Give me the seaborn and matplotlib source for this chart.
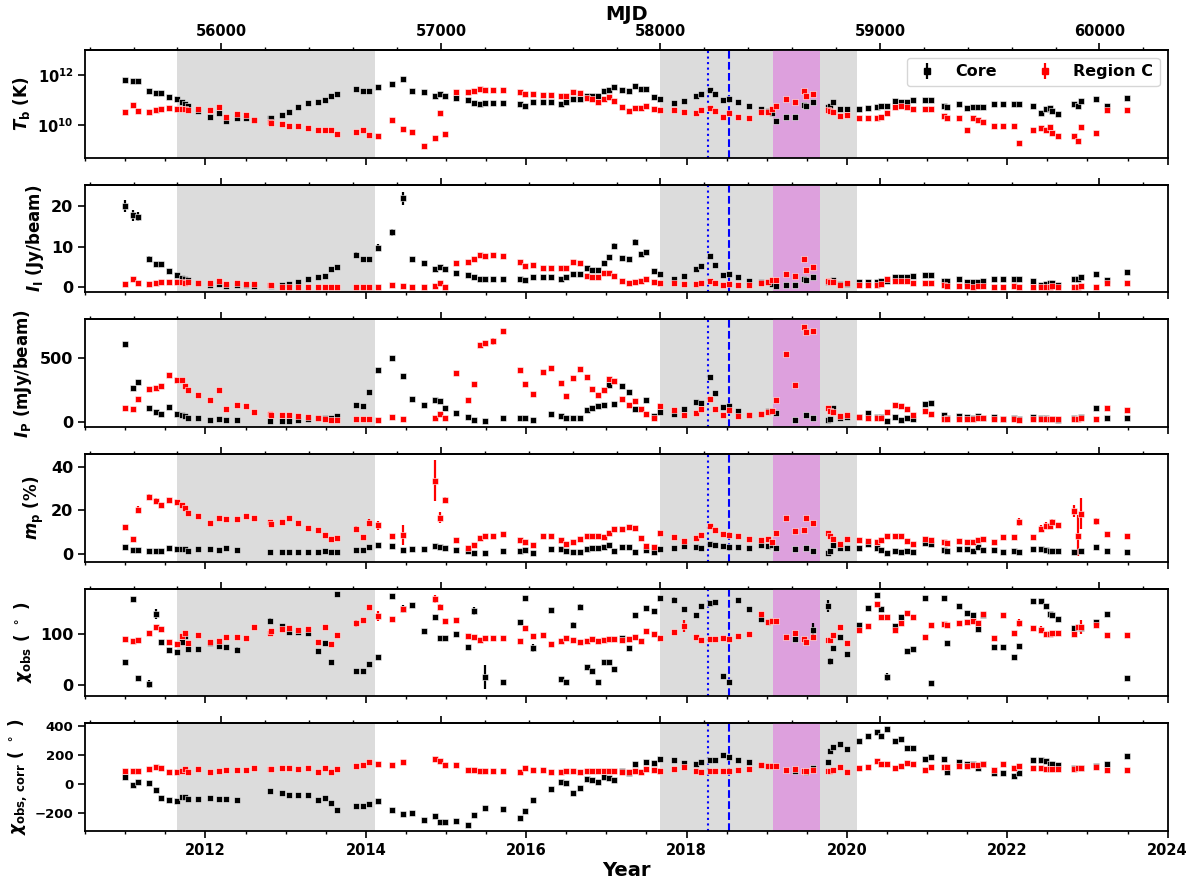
import numpy as np
import pandas as pd
import seaborn as sns
import matplotlib.pyplot as plt
from matplotlib.ticker import MultipleLocator, NullFormatter, NullLocator, FormatStrFormatter, FixedLocator

nan = np.nan

# epochs (decimal year)
years = [2011.00, 2011.09, 2011.16, 2011.30, 2011.38, 2011.44, 2011.54, 2011.64, 2011.71, 2011.74,
         2011.78, 2011.91, 2012.06, 2012.17, 2012.25, 2012.39, 2012.50, 2012.61, 2012.80, 2012.82,
         2012.96, 2013.04, 2013.15, 2013.28, 2013.40, 2013.49, 2013.57, 2013.64, 2013.88, 2013.96,
         2014.04, 2014.15, 2014.33, 2014.46, 2014.57, 2014.72, 2014.86, 2014.92, 2014.99, 2015.12,
         2015.27, 2015.35, 2015.43, 2015.49, 2015.58, 2015.71, 2015.92, 2015.99, 2016.08, 2016.21,
         2016.31, 2016.44, 2016.50, 2016.58, 2016.67, 2016.76, 2016.82, 2016.90,
         2016.97, 2017.03, 2017.09, 2017.20, 2017.28, 2017.36, 2017.43, 2017.50, 2017.59, 2017.67,
         2017.84, 2017.97, 2018.12, 2018.18, 2018.29, 2018.35, 2018.45, 2018.53, 2018.64, 2018.78,
         2018.93, 2019.02, 2019.07, 2019.11, 2019.24, 2019.35, 2019.47, 2019.49, 2019.58, 2019.76,
         2019.79, 2019.83, 2019.92, 2020.00, 2020.15, 2020.26, 2020.37, 2020.42, 2020.50, 2020.60,
         2020.67, 2020.75, 2020.82, 2020.97, 2021.05, 2021.21, 2021.25, 2021.40, 2021.50, 2021.57,
         2021.64, 2021.70, 2021.84, 2021.95, 2022.09, 2022.15, 2022.32, 2022.42, 2022.48, 2022.53,
         2022.56, 2022.63, 2022.83, 2022.88, 2022.92, 2023.11, 2023.24, 2023.49]

# brightness temperature (K)
tb_core = [6.5e11, 5.9e11, 5.8e11, 2.3e11, 1.9e11, 1.85e11, 1.3e11, 1.07e11, 8.1e10, 7.1e10,
           5.9e10, 3.5e10, 2.1e10, 3.1e10, 1.45e10, 1.9e10, 1.95e10, 1.5e10, 1.95e10, 1.8e10,
           2.6e10, 3.3e10, 5.1e10, 7.6e10, 8.1e10, 9.7e10, 1.5e11, 1.7e11, 2.7e11, 2.3e11,
           2.3e11, 3.2e11, 4.5e11, 7.1e11, 2.3e11, 2.0e11, 1.5e11, 1.7e11, 1.5e11, 1.2e11,
           1.0e11, 7.8e10, 7.1e10, 7.6e10, 7.6e10, 7.6e10, 7.1e10, 5.9e10, 8.6e10, 8.6e10,
           8.6e10, 7.1e10, 8.1e10, 1.1e11, 1.1e11, 1.5e11, 1.4e11, 1.5e11,
           2.2e11, 2.6e11, 3.3e11, 2.4e11, 2.2e11, 3.5e11, 2.8e11, 2.8e11, 1.3e11, 1.1e11,
           7.4e10, 8.9e10, 1.45e11, 1.7e11, 2.6e11, 1.7e11, 1.0e11, 1.1e11, 8.3e10, 5.9e10,
           4.5e10, 3.7e10, 2.9e10, 1.4e10, 2.1e10, 2.1e10, 6.3e10, 5.9e10, 8.3e10, 5.4e10,
           5.6e10, 8.6e10, 4.4e10, 4.5e10, 4.5e10, 4.9e10, 5.1e10, 5.8e10, 5.6e10, 9.3e10,
           8.3e10, 8.3e10, 9.7e10, 1.0e11, 1.0e11, 5.8e10, 5.2e10, 6.9e10, 4.6e10, 5.2e10,
           5.2e10, 5.4e10, 6.9e10, 6.8e10, 6.9e10, 6.9e10, 5.6e10, 3.1e10, 4.3e10, 4.8e10,
           3.7e10, 2.8e10, 7.1e10, 5.9e10, 8.9e10, 1.1e11, 5.9e10, 1.2e11]
tb_regc = [3.3e10, 6.5e10, 3.6e10, 3.3e10, 3.9e10, 4.4e10, 4.8e10, 4.5e10, 4.5e10, 4.3e10,
           4.1e10, 4.3e10, 4.0e10, 5.1e10, 2.1e10, 2.7e10, 2.4e10, 1.5e10, 1.3e10, 1.2e10,
           1.07e10, 9.3e9, 9.3e9, 7.4e9, 6.5e9, 6.5e9, 6.5e9, 4.4e9, 5.3e9, 6.3e9,
           4.1e9, 3.6e9, 1.6e10, 7.1e9, 5.3e9, 1.4e9, 2.9e9, 3.0e10, 4.2e9, 2.0e11,
           2.0e11, 2.3e11, 2.8e11, 2.6e11, 2.6e11, 2.5e11, 2.1e11, 1.7e11, 1.7e11, 1.6e11,
           1.6e11, 1.5e11, 1.5e11, 2.0e11, 1.95e11, 1.2e11, 1.1e11, 8.6e10,
           1.1e11, 1.3e11, 9.3e10, 5.4e10, 3.6e10, 4.6e10, 4.8e10, 5.9e10, 4.5e10, 4.1e10,
           4.1e10, 3.3e10, 3.0e10, 4.0e10, 4.8e10, 3.7e10, 2.1e10, 3.0e10, 2.1e10, 1.9e10,
           3.3e10, 3.4e10, 4.4e10, 5.6e10, 1.1e11, 8.6e10, 2.3e11, 1.4e11, 1.7e11, 4.1e10,
           3.6e10, 3.4e10, 2.2e10, 2.6e10, 1.9e10, 1.8e10, 1.8e10, 2.1e10, 3.1e10, 5.4e10,
           5.6e10, 5.4e10, 4.3e10, 4.3e10, 4.3e10, 2.2e10, 1.9e10, 1.8e10, 6.2e9, 1.9e10,
           1.5e10, 1.3e10, 8.9e9, 9.3e9, 8.9e9, 1.8e9, 6.3e9, 7.6e9, 6.5e9, 8.3e9,
           4.9e9, 3.6e9, 3.6e9, 2.2e9, 8.5e9, 4.9e9, 4.0e10, 4.0e10]

# total intensity (Jy/beam)
ii_core = [20.0, 17.7, 17.4, 7.1, 5.8, 5.7, 4.0, 3.0, 2.4, 2.1,
           1.8, 1.1, 0.6, 0.9, 0.4, 0.5, 0.5, 0.4, 0.6, 0.4,
           0.7, 0.9, 1.3, 2.2, 2.5, 2.8, 4.5, 5.0, 8.0, 7.0,
           6.9, 9.8, 13.5, 21.9, 7.0, 6.1, 4.6, 5.1, 4.5, 3.6,
           3.0, 2.5, 2.2, 2.2, 2.2, 2.2, 2.1, 1.8, 2.6, 2.6,
           2.6, 2.1, 2.5, 3.3, 3.4, 4.8, 4.4, 4.4,
           5.9, 7.5, 10.2, 7.3, 7.0, 11.2, 8.3, 8.6, 4.1, 3.3,
           2.2, 2.7, 4.6, 5.2, 7.7, 5.4, 3.0, 3.3, 2.5, 1.7,
           1.3, 1.3, 0.8, 0.3, 0.5, 0.6, 2.0, 1.8, 2.5, 1.4,
           1.6, 1.8, 0.9, 0.9, 1.3, 1.4, 1.4, 1.6, 1.6, 2.6,
           2.5, 2.5, 2.8, 3.0, 3.0, 1.6, 1.5, 2.2, 1.3, 1.4,
           1.4, 1.6, 2.0, 2.0, 2.1, 2.0, 1.7, 0.7, 0.9, 1.1,
           1.1, 0.7, 2.0, 2.0, 2.6, 3.2, 1.8, 3.8]
ii_regc = [0.9, 2.0, 1.0, 0.9, 1.1, 1.3, 1.4, 1.3, 1.4, 1.2,
           1.4, 1.2, 1.2, 1.6, 0.8, 1.0, 0.8, 0.8, 0.6, 0.5,
           0.2, 0.2, 0.2, 0.2, 0.2, 0.2, 0.2, 0.2, 0.2, 0.2,
           0.2, 0.2, 0.5, 0.3, 0.2, 0.2, 0.3, 1.0, 0.2, 6.1,
           6.2, 7.1, 8.0, 7.7, 7.9, 7.7, 6.3, 5.3, 5.4, 4.8,
           4.9, 4.7, 4.7, 6.2, 6.0, 2.9, 2.5, 2.5,
           3.5, 3.6, 2.9, 1.6, 1.2, 1.4, 1.6, 2.0, 1.4, 1.1,
           1.1, 0.9, 0.9, 1.1, 1.6, 1.0, 0.6, 0.8, 0.5, 0.5,
           1.1, 1.4, 1.8, 1.8, 3.3, 2.7, 6.9, 4.4, 5.1, 1.7,
           1.4, 1.3, 0.6, 1.1, 0.6, 0.5, 0.6, 0.8, 2.0, 1.6,
           1.6, 1.6, 1.2, 1.1, 1.1, 0.5, 0.4, 0.3, 0.3, 0.2,
           0.3, 0.4, 0.2, 0.2, 0.3, 0.1, 0.1, 0.2, 0.2, 0.2,
           0.4, 0.1, 0.2, 0.2, 0.3, 0.1, 1.1, 1.1]

# polarized intensity (mJy/beam)
ip_core = [614, 267, 311, 109, 80, 67, 117, 67, 54, 49,
           28, 28, 18, 21, 16, 16, nan, nan, 8, nan,
           10, 10, 16, 23, 28, 31, 28, 47, 135, 122,
           236, 404, 505, 363, 179, 130, 174, 163, 114, 70,
           36, 18, nan, 10, nan, 31, 28, 31, 18, nan,
           62, 44, 34, 31, 34, 98, 109, 124,
           130, 290, 142, 285, 233, 106, nan, 171, 44, 78,
           67, 104, 158, 148, 350, 228, 117, 122, 88, 57,
           60, 85, 85, 72, nan, 16, nan, 57, 31, 18,
           21, 109, 31, 39, 36, 70, 41, 36, 10, 36,
           16, 31, 26, 145, 150, 52, 34, 47, 39, 31,
           49, 34, 41, 21, 31, 21, 41, 31, 31, 26,
           26, 16, 28, nan, 39, 111, 28, 34]
ip_regc = [111, 104, 181, 259, 264, 285, 365, 326, 331, 285,
           251, 215, 176, 254, 104, 130, 124, 78, 67, 54,
           54, 54, 44, 39, 34, 21, 16, 13, 21, 21,
           21, 18, 36, 21, nan, nan, 28, 67, 31, 386,
           174, 295, 606, 622, 632, 712, 409, 295, 223, 394,
           422, 303, 205, 342, 414, 352, 259, 212,
           251, 337, 319, 179, 130, 163, 104, 60, 34, 122,
           98, 52, 70, 101, 181, 104, 57, 91, 49, 52,
           60, 80, 83, 176, 534, 287, 741, 707, 710, 111,
           83, 80, 47, 52, 41, 34, 28, 28, 78, 130,
           124, 104, 57, 83, 60, 21, 21, 26, 21, 26,
           34, 31, 23, 23, 23, 16, 21, 26, 21, 21,
           21, 21, 21, 21, 31, 21, 111, 98]

# fractional polarization (%)
mp_core = [2.9, 1.5, 1.8, 1.4, 1.2, 1.2, 2.6, 2.2, 2.2, 2.0,
           1.4, 2.0, 2.2, 1.8, 2.6, 1.8, nan, nan, 0.8, nan,
           0.8, 0.8, 0.6, 0.8, 0.8, 1.1, 0.6, 0.8, 1.5, 1.5,
           3.1, 3.8, 3.7, 1.7, 2.3, 2.2, 3.5, 3.1, 2.5, 1.8,
           1.1, 0.5, nan, 0.3, nan, 1.2, 1.2, 1.5, 0.5, nan,
           2.2, 2.2, 1.1, 0.8, 0.8, 2.2, 2.6, 2.8,
           3.1, 3.8, 1.2, 2.9, 3.1, 0.8, nan, 1.8, 0.9, 2.2,
           2.6, 3.5, 3.2, 2.6, 4.5, 4.0, 3.5, 3.2, 3.1, 2.6,
           4.0, 3.5, 3.8, 2.8, nan, 2.2, nan, 2.8, 1.1, 0.5,
           1.2, 4.2, 2.6, 2.6, 2.5, 4.3, 2.6, 1.8, 0.5, 1.1,
           0.6, 1.1, 0.8, 4.8, 4.6, 1.7, 1.4, 2.0, 2.0, 1.2,
           2.9, 1.7, 1.8, 0.9, 1.2, 0.8, 2.2, 2.3, 1.8, 1.2,
           1.2, 1.4, 0.9, nan, 1.4, 3.2, 1.4, 0.8]
mp_regc = [12.5, 6.6, 20.3, 26.0, 24.3, 22.5, 24.9, 24.0, 22.3, 21.0,
           18.8, 17.2, 14.3, 16.5, 16.2, 15.8, 17.4, 16.6, 14.6, 13.8,
           14.6, 16.6, 14.3, 11.8, 11.1, 8.8, 6.8, 7.4, 11.4, 7.5,
           14.2, 13.1, 8.3, 8.6, nan, nan, 33.7, 16.5, 24.9, 6.3,
           2.6, 4.2, 7.4, 8.2, 8.2, 9.2, 6.5, 5.5, 4.2, 8.0,
           8.3, 6.5, 4.5, 5.5, 6.8, 8.2, 8.0, 8.0,
           7.8, 9.7, 11.4, 11.4, 12.2, 11.7, 7.4, 3.4, 3.1, 9.7,
           7.5, 5.7, 7.2, 8.6, 12.6, 10.8, 8.9, 8.5, 8.0, 6.6,
           6.3, 6.6, 5.2, 9.7, 16.3, 10.5, 10.8, 16.5, 14.0, 9.7,
           8.0, 6.6, 4.6, 6.6, 6.2, 5.8, 5.4, 6.2, 8.2, 8.2,
           8.2, 6.0, 4.3, 6.8, 6.5, 5.2, 5.1, 5.8, 5.2, 5.2,
           6.2, 6.8, 5.4, 7.7, 7.8, 14.6, 7.8, 11.5, 12.9, 12.9,
           14.6, 13.1, 19.5, 8.2, 18.5, 14.9, 9.2, 8.0]

# EVPA observed (deg)
chi_core = [46, 170, 15, 2, 140, 84, 69, 65, 85, 96,
            72, 72, 82, 77, 75, 69, nan, nan, 127, nan,
            117, 105, 105, 103, 68, 83, 45, 179, 28, 27,
            42, 56, 175, 150, 158, 106, 134, 93, 93, 101,
            76, 146, nan, 16, nan, 6.5, 125, 171, 73, nan,
            147, 13, 6.5, 119, 153, 35, 27, 7,
            46, 45, 32, 92, 73, 138, nan, 151, 146, 171,
            168, 149, 138, 155, 162, 163, 18, 6.5, 168, 149,
            130, 125, 127, nan, nan, 91, nan, 85, 109, 155,
            47, 73, 94, 62, 119, 151, 177, 149, 16, 117,
            134, 68, 71, 171, 5, 171, 82, 156, 142, 138,
            110, 138, 76, 76, 55, 77, 166, 166, 156, 140,
            138, 130, 112, nan, 113, 125, 140, 14]
chi_regc = [91, 86, 89, 103, 115, 110, 84, 80, 97, 103,
            82, 98, 85, 86, 95, 94, 92, 114, 103, 106,
            110, 112, 108, 111, 84, 114, 81, 99, 122, 128,
            153, 136, 131, 149, nan, nan, 169, 153, 127, 128,
            97, 94, 88, 92, 92, 92, 86, 113, 97, 99,
            81, 87, 92, 88, 84, 86, 90, 86,
            88, 90, 90, 88, 90, 94, 86, 106, 101, 92,
            104, 117, 95, 88, 90, 91, 93, 90, 97, 101,
            140, 124, 127, 127, 95, 103, 90, 85, 94, 89,
            89, 99, 115, 83, 108, 117, 159, 134, 135, 108,
            123, 142, 134, 95, 118, 120, 118, 123, 124, 127,
            123, 140, 92, 139, 103, 123, 112, 109, 101, 100,
            102, 103, 101, 114, 114, 118, 98, 98]

# EVPA after n*pi correction (deg)
chicorr_core = [46, -7, 16, 5, -39, -95, -111, -116, -92, -88,
                -106, -106, -97, -102, -106, -111, nan, nan, -51, nan,
                -62, -76, -76, -76, -111, -97, -132, -180, -150, -150,
                -136, -120, -182, -208, -201, -252, -222, -266, -266, -259,
                -284, -212, nan, -164, nan, -173, -236, -189, -109, nan,
                -35, 12, 7, -60, -25, 32, 25, 12,
                46, 44, 30, 92, 76, 139, nan, 152, 148, 171,
                169, 148, 141, 155, 164, 164, 199, 185, 169, 150,
                132, 127, 127, nan, nan, 92, nan, 85, 109, 155,
                231, 259, 275, 243, 300, 333, 358, 333, 379, 298,
                314, 247, 252, 171, 185, 171, 83, 155, 141, 136,
                111, 136, 76, 76, 53, 76, 166, 166, 157, 139,
                139, 129, 111, nan, 113, 125, 141, 194]
chicorr_regc = [92, 88, 90, 104, 115, 111, 81, 81, 92, 101,
                85, 101, 85, 90, 95, 95, 95, 113, 104, 106,
                109, 109, 106, 111, 85, 113, 83, 101, 122, 132,
                155, 139, 134, 150, nan, nan, 173, 157, 132, 132,
                99, 95, 88, 92, 92, 92, 85, 109, 97, 99,
                81, 85, 92, 88, 85, 88, 92, 90,
                88, 88, 88, 85, 83, 92, 83, 104, 99, 90,
                104, 116, 92, 85, 88, 90, 92, 88, 97, 104,
                132, 127, 127, 127, 95, 102, 88, 92, 97, 88,
                90, 99, 116, 83, 109, 116, 159, 136, 136, 111,
                122, 146, 136, 97, 120, 120, 120, 125, 127, 132,
                132, 141, 99, 141, 109, 122, 113, 109, 102, 102,
                102, 104, 104, 113, 113, 118, 99, 99]

# visible error bars only (epoch -> 1 sigma)
ii_core_err = {2011.00: 1.5, 2011.09: 1.3, 2011.16: 1.2, 2011.30: 0.5, 2013.88: 0.6,
               2014.15: 0.8, 2014.33: 0.9, 2014.46: 1.6, 2017.09: 0.7, 2017.36: 0.7, 2018.29: 0.5}
ip_regc_err = {2015.58: 25, 2019.47: 20}
mp_regc_err = {2011.16: 1.5, 2011.30: 1.3, 2011.38: 1.2, 2013.88: 1.5, 2014.04: 1.6,
               2014.15: 2.0, 2014.46: 4.5, 2014.86: 9.5, 2014.92: 2.5, 2014.99: 1.3,
               2022.15: 1.7, 2022.42: 1.7, 2022.48: 1.5, 2022.53: 1.4, 2022.56: 1.6,
               2022.83: 2.8, 2022.88: 9.5, 2022.92: 7.0, 2023.11: 1.5}
chi_core_err = {2011.30: 8, 2011.38: 9, 2011.74: 8, 2012.39: 6, 2012.80: 6, 2014.46: 8,
                2015.35: 7, 2015.49: 24, 2016.08: 7, 2016.58: 6, 2016.67: 6, 2017.84: 6,
                2019.58: 14, 2019.76: 12, 2019.79: 7, 2020.50: 8}
chi_regc_err = {2013.88: 7, 2014.15: 10, 2014.46: 6, 2014.86: 8, 2014.92: 6, 2017.97: 12,
                2022.15: 8, 2022.42: 7, 2022.92: 14}

# shaded periods and marked epochs (year)
gray_spans = [(2011.65, 2014.12), (2017.67, 2020.13)]
plum_span = (2019.08, 2019.66)
dotted_epoch = 2018.27
dashed_epoch = 2018.53

# MJD ticks on the top axis
mjd_major = [56000, 57000, 58000, 59000, 60000]
mjd_minor = list(range(55400, 60201, 200))

df = pd.DataFrame({
    'year': years,
    'tb_core': tb_core, 'tb_regc': tb_regc,
    'ii_core': ii_core, 'ii_regc': ii_regc,
    'ip_core': ip_core, 'ip_regc': ip_regc,
    'mp_core': mp_core, 'mp_regc': mp_regc,
    'chi_core': chi_core, 'chi_regc': chi_regc,
    'chicorr_core': chicorr_core, 'chicorr_regc': chicorr_regc,
})


def err_col(d):
    return np.array([d.get(y, 0.0) for y in years])


def yr2mjd(y):
    return 51544.5 + (np.asarray(y) - 2000.0) * 365.25


def mjd2yr(m):
    return 2000.0 + (np.asarray(m) - 51544.5) / 365.25


sns.set_style('ticks')
plt.rcParams['font.family'] = ['DejaVu Sans']
plt.rcParams['font.weight'] = 'bold'
plt.rcParams['axes.labelweight'] = 'bold'
plt.rcParams['mathtext.fontset'] = 'custom'
plt.rcParams['mathtext.rm'] = 'DejaVu Sans:bold'
plt.rcParams['mathtext.it'] = 'DejaVu Sans:bold:italic'
plt.rcParams['mathtext.bf'] = 'DejaVu Sans:bold'
plt.rcParams['axes.linewidth'] = 1.3
for k in ['text.color', 'axes.labelcolor', 'xtick.color', 'ytick.color', 'axes.edgecolor']:
    plt.rcParams[k] = 'black'

# key, ylabel, core err, regc err, ylim, yticks, ytick label size
panels = [
    ('tb', r'$T_{\rm b}$ (K)', None, None, (4.8e8, 1e13), [1e10, 1e12], 10.5),
    ('ii', r'$I_{\rm I}$ (Jy/beam)', ii_core_err, None, (-1.2, 25.2), [0, 10, 20], 11.5),
    ('ip', r'$I_{\rm P}$ (mJy/beam)', None, ip_regc_err, (-39, 805), [0, 500], 11.5),
    ('mp', r'$m_{\rm p}$ (%)', None, mp_regc_err, (-3.7, 46), [0, 20, 40], 11.5),
    ('chi', r'$\chi_{\rm obs}$ ( $^\circ$ )', chi_core_err, chi_regc_err, (-22, 190), [0, 100], 11.5),
    ('chicorr', r'$\chi_{\rm obs,\,corr}$ ( $^\circ$ )', None, None, (-325, 420), [-200, 0, 200, 400], 9.5),
]

fig, axes = plt.subplots(6, 1, figsize=(12, 8.84), dpi=100)
fig.subplots_adjust(left=0.071, right=0.973, top=0.9434, bottom=0.06, hspace=0.25)

for i, (key, ylab, cerr, rerr, ylim, yticks, ysize) in enumerate(panels):
    ax = axes[i]
    for lo, hi in gray_spans:
        ax.axvspan(lo, hi, color='gainsboro', lw=0, zorder=0)
    ax.axvspan(*plum_span, color='plum', lw=0, zorder=0.5)
    ax.axvline(dotted_epoch, color='b', ls=':', lw=1.5, zorder=1)
    ax.axvline(dashed_epoch, color='b', ls='--', lw=1.5, zorder=1)

    for col, color, errd in [(key + '_core', 'k', cerr), (key + '_regc', 'red', rerr)]:
        if errd:
            e = err_col(errd)
            m = e > 0
            ax.errorbar(df['year'][m], df[col][m], yerr=e[m], fmt='none',
                        ecolor=color, elinewidth=1.6, capsize=0, zorder=2)
        sns.scatterplot(data=df, x='year', y=col, color=color, marker='s', s=24,
                        edgecolor='white', linewidth=0.4, ax=ax, zorder=3)

    if key == 'tb':
        ax.set_yscale('log')
        ax.yaxis.set_minor_locator(NullLocator())
    ax.set_ylim(*ylim)
    ax.set_yticks(yticks)
    ax.set_xlim(2010.5, 2024.0)
    ax.xaxis.set_major_locator(MultipleLocator(2))
    ax.xaxis.set_minor_locator(MultipleLocator(0.5))
    ax.xaxis.set_major_formatter(FormatStrFormatter('%d'))
    ax.tick_params(which='major', direction='out', length=5, width=1.2)
    ax.tick_params(which='minor', direction='out', length=2.5, width=1.0)
    ax.tick_params(axis='y', labelsize=ysize)
    ax.tick_params(axis='x', labelsize=10.5, labelbottom=(i == 5))
    ax.set_ylabel(ylab, fontsize=12, fontweight='bold')
    ax.set_xlabel('')

    sec = ax.secondary_xaxis('top', functions=(yr2mjd, mjd2yr))
    sec.xaxis.set_major_locator(FixedLocator(mjd_major))
    sec.xaxis.set_minor_locator(FixedLocator(mjd_minor))
    sec.tick_params(which='major', direction='out', length=5, width=1.2, labelsize=10.5, pad=3)
    sec.tick_params(which='minor', direction='out', length=2.5, width=1.0)
    if i == 0:
        sec.xaxis.set_major_formatter(FormatStrFormatter('%d'))
        sec.set_xlabel('MJD', fontsize=14, fontweight='bold', labelpad=3)
    else:
        sec.xaxis.set_major_formatter(NullFormatter())

axes[5].set_xlabel('Year', fontsize=14, fontweight='bold', labelpad=2)

# legend with errorbar-style handles
h_core = axes[0].errorbar([], [], yerr=[], fmt='s', color='k', ms=4.5, elinewidth=1.6, label='Core')
h_regc = axes[0].errorbar([], [], yerr=[], fmt='s', color='red', ms=4.5, elinewidth=1.6, label='Region C')
axes[0].legend(handles=[h_core, h_regc], loc='upper right', ncol=2, fontsize=11.5,
               handlelength=1.75, handletextpad=0.9, columnspacing=2.1, borderpad=0.4)

fig.savefig('out.png', dpi=100)
